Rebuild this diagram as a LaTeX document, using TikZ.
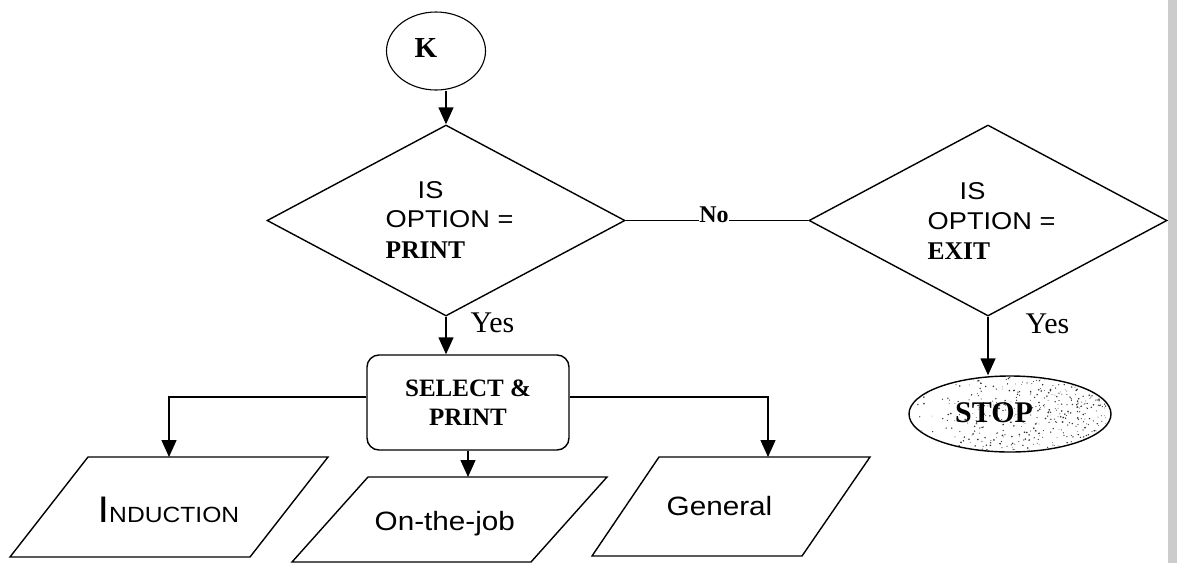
\documentclass[tikz,border=0pt]{standalone}
\usepackage{fontspec}
\setmainfont{Liberation Serif}
\newfontfamily\sansw[FakeStretch=1.12]{Liberation Sans}
\usetikzlibrary{shapes.geometric,arrows.meta,calc}

\begin{document}
\begin{tikzpicture}[x=1pt,y=-1pt,
  line width=1.4pt,
  arr/.style={-{Triangle[width=15pt,length=17pt]}},
  decision/.style={diamond, draw, minimum width=358pt, minimum height=191pt, inner sep=0pt},
  lbl/.style={inner sep=0pt, anchor=base west},
  qtext/.style={lbl, font=\sansw\fontsize{24.3}{24.3}\selectfont},
  qbold/.style={lbl, font=\bfseries\fontsize{25.5}{25.5}\selectfont},
  yeslbl/.style={lbl, font=\fontsize{30}{30}\selectfont},
  iotext/.style={lbl, font=\sansw\fontsize{26.5}{26.5}\selectfont},
]
\useasboundingbox (0,0) rectangle (1177,563);
\fill[white] (0,0) rectangle (1177,563);
% grey edge strip on the right
\fill[black!20] (1168,0) rectangle (1177,563);

% connector K
\node[ellipse, draw, line width=1.1pt, minimum width=99pt, minimum height=78pt, inner sep=0pt] (K) at (436,51) {};
\node[inner sep=0pt, font=\bfseries\fontsize{29}{29}\selectfont] (Ktext) at (426,48.5) {K};

% decisions
\node[decision] (d1) at (446,220.5) {};
\node[decision] (d2) at (988,220.5) {};

\node[qtext] (d1a) at ($(d1)+(-29,-22)$) {IS};
\node[qtext] (d1b) at ($(d1)+(-61,7)$) {OPTION =};
\node[qbold] (d1c) at ($(d1)+(-61,38)$) {PRINT};

\node[qtext] (d2a) at ($(d2)+(-29,-21)$) {IS};
\node[qtext] (d2b) at ($(d2)+(-61,9)$) {OPTION =};
\node[qbold] (d2c) at ($(d2)+(-61,39)$) {EXIT};

% process box
\node[draw, rounded corners=12pt, minimum width=202pt, minimum height=95pt,
      align=center, font=\bfseries\fontsize{25}{29}\selectfont] (sel) at (468,402.5) {SELECT \&\\PRINT};

% terminator
\node[ellipse, draw, minimum width=202pt, minimum height=76pt, inner sep=0pt] (stop) at (1010,414) {};
\begin{scope}
  \clip (1010,414) ellipse [x radius=100, y radius=37];
  \pgfmathsetseed{7}
  \foreach \i in {1,...,480} {
    \pgfmathsetmacro\u{rnd}
    \pgfmathsetmacro\px{909+202*(\u^0.55)}
    \pgfmathsetmacro\py{376+76*rnd}
    \pgfmathsetmacro\rr{0.35+0.6*rnd}
    \fill[black!80] (\px,\py) circle[radius=\rr pt];
  }
\end{scope}
\node[inner sep=0pt, font=\bfseries\fontsize{30}{30}\selectfont] (stoptext) at (994,413) {STOP};

% output parallelograms
\coordinate (ind-a) at (88,457);  \coordinate (ind-b) at (328,457);
\coordinate (ind-c) at (250,557); \coordinate (ind-d) at (10,557);
\coordinate (ind-top) at (169,457);
\draw (ind-a) -- (ind-b) -- (ind-c) -- (ind-d) -- cycle;
\node[lbl, font=\sansw] (ind) at (97,522)
  {{\fontsize{37}{37}\selectfont I}{\fontsize{22}{22}\selectfont NDUCTION}};

\coordinate (ojt-a) at (368,477); \coordinate (ojt-b) at (607,477);
\coordinate (ojt-c) at (531,562); \coordinate (ojt-d) at (292,562);
\coordinate (ojt-top) at (468,477);
\draw (ojt-a) -- (ojt-b) -- (ojt-c) -- (ojt-d) -- cycle;
\node[iotext] (ojt) at (374,530) {On-the-job};

\coordinate (gen-a) at (659,457); \coordinate (gen-b) at (870,457);
\coordinate (gen-c) at (802,556); \coordinate (gen-d) at (592,556);
\coordinate (gen-top) at (768,457);
\draw (gen-a) -- (gen-b) -- (gen-c) -- (gen-d) -- cycle;
\node[iotext] (gen) at (666,515) {General};

% connectors
\draw[arr] (d1.north |- K.south) -- (d1.north);
\draw[arr] (d1.south) -- (d1.south |- sel.north);
\node[yeslbl] (yes1) at (470,332) {Yes};
\draw (d1.east) -- (d2.west);
\node[inner sep=0pt, anchor=base, fill=white, font=\bfseries\fontsize{24}{24}\selectfont] (no) at (714,222) {No};
\draw[arr] (d2.south) -- (d2.south |- stop.north);
\node[yeslbl] (yes2) at (1025,333) {Yes};

\draw[arr] ($(sel.west)+(0,-5.5)$) -| (ind-top);
\draw[arr] ($(sel.east)+(0,-5.5)$) -| (gen-top);
\draw[arr] (sel.south) -- (ojt-top);
\end{tikzpicture}
\end{document}
